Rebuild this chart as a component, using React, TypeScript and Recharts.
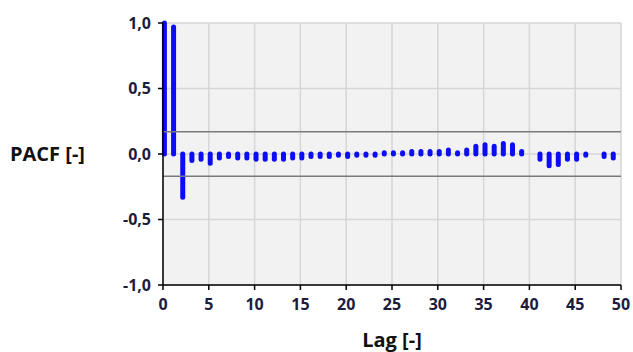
import { BarChart, Bar, XAxis, YAxis, CartesianGrid, ReferenceLine } from 'recharts';

const lags = Array.from({ length: 50 }, (_, i) => i);
const pacfValues: (number | null)[] = [
    1.0, 0.97, -0.33, -0.05, -0.04, -0.07, -0.03, -0.02, -0.03, -0.03,
    -0.04, -0.04, -0.04, -0.04, -0.03, -0.03, -0.02, -0.02, -0.02, -0.01,
    -0.02, -0.01, -0.01, -0.01, 0.01, 0.01, 0.01, 0.02, 0.02, 0.02,
    0.02, 0.03, 0.01, 0.03, 0.06, 0.07, 0.06, 0.08, 0.07, 0.02,
    null, -0.04, -0.09, -0.08, -0.04, -0.04, -0.01, null, -0.02, -0.03,
];
const confidence = 0.17;
const xTicks = [0, 5, 10, 15, 20, 25, 30, 35, 40, 45, 50];
const yTicks = [-1, -0.5, 0, 0.5, 1];

const data = lags.map((lag, i) => ({ lag, pacf: pacfValues[i] }));

const fmt = (v: number) => v.toFixed(1).replace('.', ',');
const fmtX = (v: number) => `${v}`;

function Stick(props: any) {
    const { x, y, width, height, value } = props;
    if (value === null || value === undefined) return null;
    const cx = x + width / 2 + 1;
    return (
        <line
            x1={cx}
            x2={cx}
            y1={y}
            y2={y + height}
            stroke="#0c0cf5"
            strokeWidth={5}
            strokeLinecap="round"
        />
    );
}

const tickStyle = { fill: '#1c1c3c', fontSize: 16, fontWeight: 700, fontFamily: 'Open Sans' };
const labelStyle = { fill: '#111', fontSize: 20, fontWeight: 700, fontFamily: 'Open Sans' };

export default function App() {
    return (
        <div style={{ position: 'absolute', left: 0, top: 0, width: 633, height: 352, background: '#fff' }}>
            <BarChart
                width={633}
                height={352}
                data={data}
                margin={{ top: 23, right: 12, bottom: 0, left: 0 }}
            >
                <CartesianGrid fill="#f2f2f2" stroke="#d6d6d6" strokeWidth={1.5} />
                <XAxis
                    dataKey="lag"
                    type="number"
                    domain={[0, 50]}
                    ticks={xTicks}
                    tickFormatter={fmtX}
                    height={67}
                    stroke="#000"
                    strokeWidth={1.5}
                    tickSize={5}
                    tickMargin={9}
                    tick={tickStyle}
                    interval={0}
                    label={{ value: 'Lag [-]', position: 'insideBottom', offset: 5, style: labelStyle }}
                />
                <YAxis
                    type="number"
                    domain={[-1, 1]}
                    ticks={yTicks}
                    tickFormatter={fmt}
                    width={163}
                    stroke="#000"
                    strokeWidth={1.5}
                    tickSize={5}
                    tickMargin={7}
                    tick={tickStyle}
                    interval={0}
                    label={{ value: 'PACF [-]', position: 'insideLeft', offset: 10, style: labelStyle }}
                />
                <ReferenceLine y={confidence} stroke="#7a7a7a" strokeWidth={1.5} />
                <ReferenceLine y={-confidence} stroke="#7a7a7a" strokeWidth={1.5} />
                <Bar dataKey="pacf" barSize={4} shape={Stick} isAnimationActive={false} />
            </BarChart>
        </div>
    );
}
